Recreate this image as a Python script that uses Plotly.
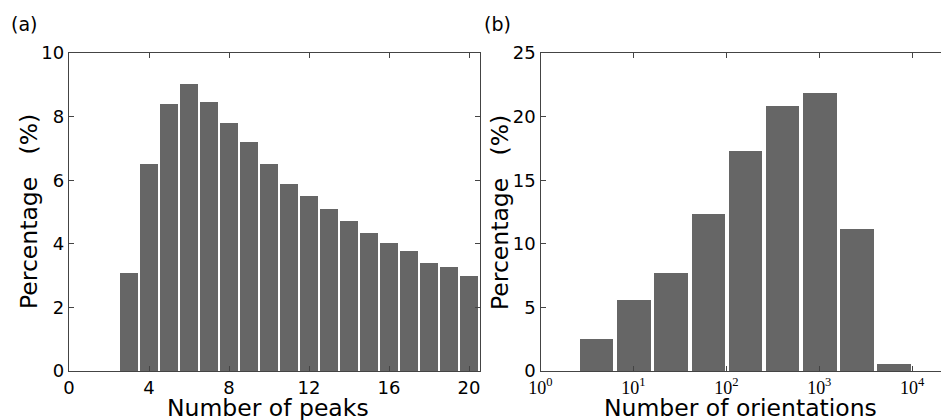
import numpy as np
import plotly.graph_objects as go

# ---- data ----
peaks = list(range(3, 21))
peaks_pct = [3.07, 6.50, 8.39, 9.02, 8.45, 7.79, 7.19, 6.50, 5.87, 5.50,
             5.09, 4.71, 4.34, 4.02, 3.77, 3.39, 3.27, 2.98]

orient_log_centers = [0.6, 1.0, 1.4, 1.8, 2.2, 2.6, 3.0, 3.4, 3.8]
orient_pct = [2.51, 5.58, 7.70, 12.33, 17.28, 20.81, 21.83, 11.15, 0.55]

left_xticks = [0, 4, 8, 12, 16, 20]
left_yticks = [0, 2, 4, 6, 8, 10]
right_xticks = [0, 1, 2, 3, 4]
right_xticktext = ["10<sup>%d</sup>" % k for k in right_xticks]
right_yticks = [0, 5, 10, 15, 20, 25]

W, H = 941, 420
BAR = "#666666"
AX = "#444444"
FONT = "DejaVu Sans"

fig = go.Figure()
fig.add_trace(go.Bar(x=peaks, y=peaks_pct, width=0.9, marker=dict(color=BAR, line=dict(width=0)),
                     xaxis="x", yaxis="y", showlegend=False, hoverinfo="skip"))
fig.add_trace(go.Bar(x=orient_log_centers, y=orient_pct, width=0.36, marker=dict(color=BAR, line=dict(width=0)),
                     xaxis="x2", yaxis="y2", showlegend=False, hoverinfo="skip"))

ydom = [1 - 371 / H, 1 - 53 / H]
common = dict(showgrid=False, zeroline=False, ticks="inside", ticklen=5, tickwidth=1,
              tickcolor=AX, linecolor=AX, linewidth=1.3, showline=True, automargin=False,
              tickfont=dict(family=FONT, size=18, color="black"))

fig.update_layout(
    width=W, height=H, margin=dict(l=0, r=0, t=0, b=0, pad=0, autoexpand=False),
    plot_bgcolor="white", paper_bgcolor="white", bargap=0,
    font=dict(family=FONT, color="black"),
    xaxis=dict(domain=[69 / W, 480 / W], range=[0, 20.55], tickvals=left_xticks,
               mirror="ticks", anchor="y", **common),
    yaxis=dict(domain=ydom, range=[0, 10], tickvals=left_yticks, mirror="ticks",
               anchor="x", **common),
    xaxis2=dict(domain=[540.5 / W, 1.0], range=[0, 4.31], tickvals=right_xticks,
                ticktext=right_xticktext, mirror="ticks", anchor="y2",
                **{k: v for k, v in common.items() if k != "tickfont"},
                tickfont=dict(family="Liberation Serif", size=18, color="black")),
    yaxis2=dict(domain=ydom, range=[0, 25], tickvals=right_yticks, mirror=False,
                anchor="x2", **common),
)

ann = [
    dict(text="(a)", x=9 / W, y=1 - 24 / H, xanchor="left", yanchor="middle", font=dict(size=19)),
    dict(text="(b)", x=482 / W, y=1 - 24 / H, xanchor="left", yanchor="middle", font=dict(size=19)),
    dict(text="Number of peaks", x=268 / W, y=1 - 408 / H, xanchor="center", yanchor="middle", font=dict(size=23.5)),
    dict(text="Number of orientations", x=740 / W, y=1 - 408 / H, xanchor="center", yanchor="middle", font=dict(size=23.5)),
    dict(text="Percentage   (%)", x=29 / W, y=(ydom[0] + ydom[1]) / 2, xanchor="center", yanchor="middle", textangle=-90, font=dict(size=23.5)),
    dict(text="Percentage   (%)", x=500 / W, y=(ydom[0] + ydom[1]) / 2, xanchor="center", yanchor="middle", textangle=-90, font=dict(size=23.5)),
]
for a in ann:
    a.update(xref="paper", yref="paper", showarrow=False)
    a["font"] = dict(family=FONT, color="black", **a["font"])
fig.update_layout(annotations=ann)

fig.write_html("out.html", config={"displayModeBar": False},
               post_script="document.body.style.margin='0';")
